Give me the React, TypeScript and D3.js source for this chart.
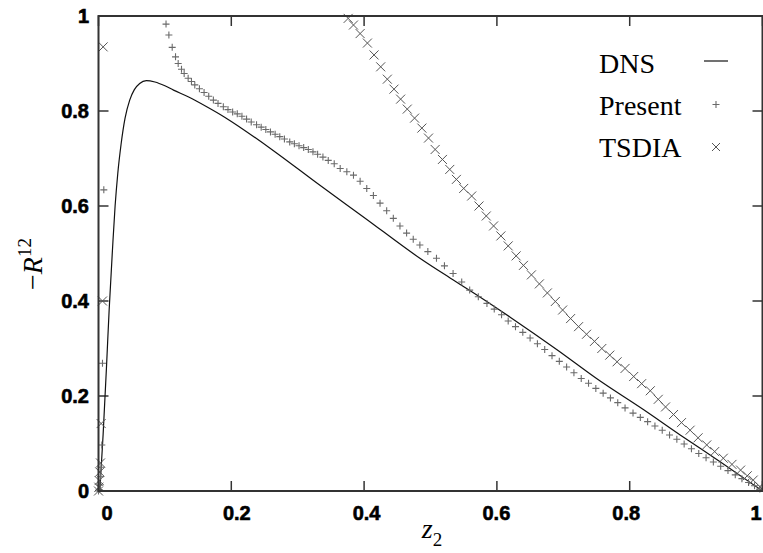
import React from "react";
import * as d3 from "d3";

const xTicks = [0, 0.2, 0.4, 0.6, 0.8, 1];
const yTicks = [0, 0.2, 0.4, 0.6, 0.8, 1];
const xTickLabels = ["0", "0.2", "0.4", "0.6", "0.8", "1"];
const yTickLabels = ["0", "0.2", "0.4", "0.6", "0.8", "1"];

const legendNames = ["DNS", "Present", "TSDIA"];

// DNS (solid line)
const dnsX = [0.002, 0.007, 0.012, 0.016, 0.021, 0.025, 0.029, 0.034, 0.040, 0.047, 0.054, 0.062, 0.072, 0.085, 0.1, 0.113, 0.135, 0.163, 0.19, 0.213, 0.263, 0.334, 0.4, 0.484, 0.53, 0.575, 0.62, 0.69, 0.755, 0.82, 0.876, 0.94, 1.0];
const dnsY = [0.0, 0.12, 0.26, 0.38, 0.507, 0.6, 0.668, 0.73, 0.785, 0.823, 0.845, 0.858, 0.864, 0.861, 0.853, 0.844, 0.83, 0.809, 0.787, 0.766, 0.717, 0.643, 0.576, 0.49, 0.448, 0.408, 0.366, 0.298, 0.232, 0.172, 0.118, 0.058, 0.0];

// Present (+ markers)
const presentX = [0.0, 0.001, 0.002, 0.003, 0.004, 0.005, 0.006, 0.008,
  0.1017, 0.106, 0.111, 0.116, 0.120, 0.125, 0.129, 0.135, 0.140, 0.145, 0.152, 0.159, 0.166, 0.173, 0.180, 0.188, 0.195, 0.202, 0.209, 0.216, 0.223, 0.230, 0.238, 0.245, 0.252, 0.259, 0.266, 0.273, 0.280, 0.288, 0.295, 0.302, 0.309, 0.316, 0.323, 0.330, 0.338, 0.346, 0.355, 0.364, 0.374, 0.384, 0.394, 0.404, 0.414, 0.424, 0.434, 0.444, 0.454, 0.464, 0.474, 0.484, 0.496, 0.509, 0.521, 0.534, 0.547, 0.559, 0.572, 0.585, 0.596, 0.607, 0.617, 0.628, 0.639, 0.650, 0.661, 0.672, 0.683, 0.694, 0.705, 0.716, 0.727, 0.738, 0.749, 0.760, 0.771, 0.782, 0.793, 0.805, 0.816, 0.827, 0.838, 0.849, 0.860, 0.871, 0.882, 0.893, 0.904, 0.915, 0.926, 0.937, 0.948, 0.959, 0.969, 0.979, 0.988, 0.996];
const presentY = [0.0, 0.003, 0.012, 0.03, 0.05, 0.097, 0.269, 0.634,
  0.983, 0.96, 0.934, 0.914, 0.900, 0.888, 0.879, 0.869, 0.862, 0.855, 0.847, 0.839, 0.831, 0.823, 0.816, 0.809, 0.803, 0.798, 0.794, 0.789, 0.783, 0.777, 0.771, 0.766, 0.761, 0.756, 0.751, 0.746, 0.741, 0.735, 0.731, 0.727, 0.723, 0.719, 0.714, 0.709, 0.703, 0.696, 0.689, 0.679, 0.672, 0.665, 0.652, 0.637, 0.622, 0.606, 0.590, 0.574, 0.558, 0.543, 0.530, 0.518, 0.504, 0.490, 0.474, 0.458, 0.440, 0.423, 0.409, 0.395, 0.383, 0.371, 0.358, 0.346, 0.334, 0.322, 0.310, 0.298, 0.285, 0.273, 0.261, 0.249, 0.237, 0.227, 0.216, 0.206, 0.196, 0.186, 0.175, 0.164, 0.155, 0.146, 0.137, 0.128, 0.118, 0.109, 0.099, 0.089, 0.079, 0.070, 0.061, 0.052, 0.043, 0.034, 0.026, 0.018, 0.011, 0.004];

// TSDIA (x markers)
const tsdiaX = [0.0, 0.0005, 0.001, 0.002, 0.003, 0.004, 0.006, 0.007,
  0.376, 0.384, 0.394, 0.405, 0.415, 0.425, 0.435, 0.445, 0.455, 0.465, 0.476, 0.487, 0.497, 0.507, 0.518, 0.529, 0.539, 0.550, 0.562, 0.573, 0.584, 0.595, 0.606, 0.617, 0.629, 0.640, 0.652, 0.664, 0.676, 0.688, 0.699, 0.711, 0.723, 0.735, 0.747, 0.758, 0.770, 0.781, 0.793, 0.806, 0.818, 0.831, 0.843, 0.854, 0.866, 0.878, 0.891, 0.903, 0.916, 0.928, 0.941, 0.954, 0.967, 0.977, 0.986, 0.996];
const tsdiaY = [0.0, 0.008, 0.022, 0.04, 0.059, 0.142, 0.40, 0.935,
  0.995, 0.981, 0.963, 0.943, 0.918, 0.893, 0.867, 0.846, 0.825, 0.804, 0.785, 0.764, 0.743, 0.719, 0.698, 0.677, 0.656, 0.637, 0.621, 0.600, 0.579, 0.558, 0.537, 0.516, 0.495, 0.475, 0.455, 0.436, 0.417, 0.399, 0.381, 0.363, 0.346, 0.330, 0.315, 0.300, 0.286, 0.272, 0.258, 0.241, 0.226, 0.211, 0.193, 0.177, 0.161, 0.144, 0.128, 0.112, 0.097, 0.083, 0.069, 0.056, 0.044, 0.032, 0.023, 0.009];

const W = 763;
const H = 553;
const L = 98.5, R = 762.5, T = 16, B = 491;

export default function App() {
  const x = d3.scaleLinear().domain([0, 1]).range([L, R]);
  const y = d3.scaleLinear().domain([0, 1]).range([B, T]);
  const xLab = d3.scaleLinear().domain([0, 1]).range([107, 756]);

  const dnsPts: [number, number][] = dnsX.map((v, i) => [v, dnsY[i]]);
  const line = d3
    .line<[number, number]>()
    .x((d) => x(d[0]))
    .y((d) => y(d[1]))
    .curve(d3.curveMonotoneX);

  const axisColor = "#333";
  const tickFont = "'Liberation Sans', Arial, sans-serif";
  const serif = "'Liberation Serif', 'Times New Roman', serif";

  const plus = (cx: number, cy: number, s: number) =>
    `M${cx - s},${cy}H${cx + s}M${cx},${cy - s}V${cy + s}`;
  const cross = (cx: number, cy: number, s: number) =>
    `M${cx - s},${cy - s}L${cx + s},${cy + s}M${cx - s},${cy + s}L${cx + s},${cy - s}`;

  return (
    <svg
      width={W}
      height={H}
      style={{ position: "absolute", left: 0, top: 0, background: "#fff" }}
    >
      <rect x={0} y={0} width={W} height={H} fill="#fff" />
      {/* ticks */}
      {yTicks.map((t, i) => (
        <g key={"yt" + i}>
          <line x1={L} x2={L + 10} y1={y(t)} y2={y(t)} stroke={axisColor} strokeWidth={1.5} />
          <line x1={R - 10} x2={R} y1={y(t)} y2={y(t)} stroke={axisColor} strokeWidth={1.5} />
          <text
            x={89}
            y={y(t)}
            textAnchor="end"
            dominantBaseline="central"
            fontFamily={tickFont}
            fontWeight="bold"
            fontSize={20}
            fill="#000"
            stroke="#000"
            strokeWidth={0.6}
          >
            {yTickLabels[i]}
          </text>
        </g>
      ))}
      {xTicks.map((t, i) => (
        <g key={"xt" + i}>
          <line x1={x(t)} x2={x(t)} y1={B} y2={B - 10} stroke={axisColor} strokeWidth={1.5} />
          <line x1={x(t)} x2={x(t)} y1={T} y2={T + 10} stroke={axisColor} strokeWidth={1.5} />
          <text
            x={xLab(t)}
            y={520}
            textAnchor="middle"
            fontFamily={tickFont}
            fontWeight="bold"
            fontSize={20}
            fill="#000"
            stroke="#000"
            strokeWidth={0.6}
          >
            {xTickLabels[i]}
          </text>
        </g>
      ))}

      {/* DNS line */}
      <path d={line(dnsPts) || ""} fill="none" stroke="#111" strokeWidth={1.2} />

      {/* Present markers */}
      <path
        d={presentX.map((v, i) => plus(x(v), y(presentY[i]), 3.5)).join("")}
        fill="none"
        stroke="#6a6a6a"
        strokeWidth={1.1}
      />
      {/* TSDIA markers */}
      <path
        d={tsdiaX.map((v, i) => cross(x(v), y(tsdiaY[i]), 4.5)).join("")}
        fill="none"
        stroke="#555"
        strokeWidth={1}
      />

      {/* frame */}
      <rect x={L} y={T} width={R - L} height={B - T} fill="none" stroke={axisColor} strokeWidth={2} />

      {/* legend */}
      {legendNames.map((n, i) => {
        const by = 73 + i * 42;
        const cy = 61 + i * 43.5;
        return (
          <g key={"lg" + i}>
            <text x={599} y={by} fontFamily={serif} fontSize={28} fill="#000">
              {n}
            </text>
            {i === 0 && <line x1={704} x2={728} y1={cy} y2={cy} stroke="#111" strokeWidth={1.2} />}
            {i === 1 && <path d={plus(716, cy, 3.5)} stroke="#6a6a6a" strokeWidth={1.1} fill="none" />}
            {i === 2 && <path d={cross(716, cy - 1, 4)} stroke="#555" strokeWidth={1} fill="none" />}
          </g>
        );
      })}

      {/* axis labels */}
      <text x={432} y={538} textAnchor="middle" fontFamily={serif} fontSize={28} fill="#000">
        <tspan fontStyle="italic">z</tspan>
        <tspan fontSize={19} dy={8}>2</tspan>
      </text>
      <text
        transform="translate(42,264) rotate(-90)"
        textAnchor="middle"
        fontFamily={serif}
        fontSize={28}
        fill="#000"
      >
        <tspan>−</tspan>
        <tspan fontStyle="italic">R</tspan>
        <tspan fontSize={19} dy={-11}>12</tspan>
      </text>
    </svg>
  );
}
